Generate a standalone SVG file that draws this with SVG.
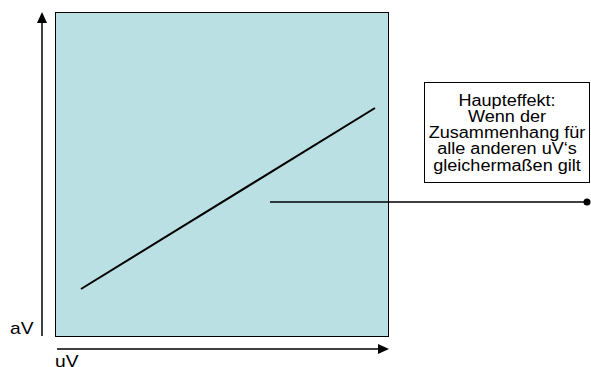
<svg xmlns="http://www.w3.org/2000/svg" width="591" height="367" viewBox="0 0 591 367">
<style>
.t{font-family:"Liberation Sans",Arial,sans-serif;font-size:16px;fill:#000}
.c{text-anchor:middle}
.ln{stroke:#000;stroke-width:1.5;fill:none}
</style>
<rect width="591" height="367" fill="#fff"/>
<g id="plot">
<rect x="55.5" y="12.5" width="333" height="324" fill="#BBE0E3" stroke="#000" stroke-width="1"/>
<line x1="81" y1="289" x2="375" y2="108" stroke="#000" stroke-width="2"/>
</g>
<g id="axes">
<line class="ln" x1="42" y1="336" x2="42" y2="22"/>
<polygon points="42,12 37,23 47,23" fill="#000"/>
<line class="ln" x1="57" y1="349" x2="379" y2="349"/>
<polygon points="389,349 378,344 378,354" fill="#000"/>
<text class="t" transform="translate(10,334) scale(1.2,1)">aV</text>
<text class="t" transform="translate(55,367) scale(1.2,1)">uV</text>
</g>
<g id="label">
<rect x="424.5" y="82.5" width="165" height="100" fill="#fff" stroke="#000" stroke-width="1"/>
<text class="t c" transform="translate(507,0) scale(1.13,1)"><tspan x="0" y="106">Haupteffekt:</tspan><tspan x="0" y="122">Wenn der</tspan><tspan x="0" y="138">Zusammenhang für</tspan><tspan x="0" y="154">alle anderen uV‘s</tspan><tspan x="0" y="171">gleichermaßen gilt</tspan></text>
</g>
<g id="connectors">
<line x1="270" y1="202" x2="586" y2="202" stroke="#000" stroke-width="1.5"/>
<circle cx="587" cy="202" r="3.5" fill="#000"/>
</g>
</svg>
